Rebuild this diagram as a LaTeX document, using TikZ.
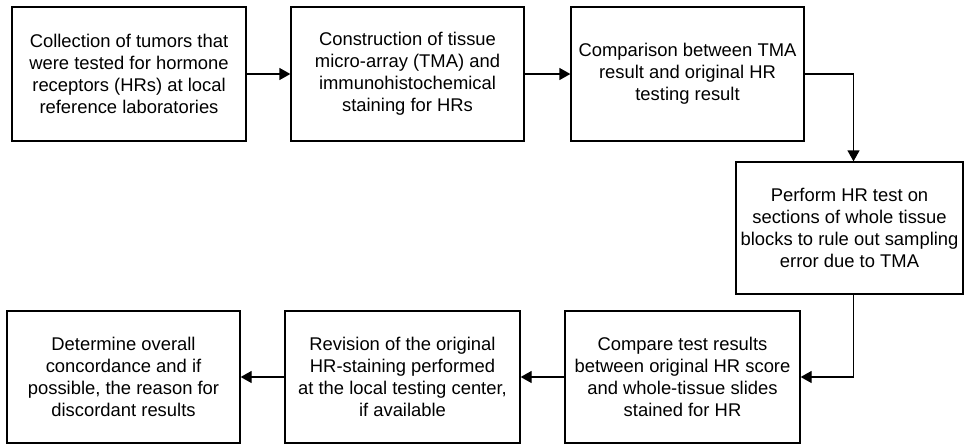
\documentclass[tikz,border=0pt]{standalone}
\usepackage{fontspec}
\setmainfont{Liberation Sans}
\usetikzlibrary{arrows.meta}
\begin{document}
\begin{tikzpicture}[x=1pt,y=-1pt,
  box/.style={draw, line width=1.3pt, align=center, inner sep=0pt,
    font=\fontsize{18.4}{22}\selectfont},
  arr/.style={line width=1.3pt, -{Triangle[length=11pt,width=12pt]}}]
\useasboundingbox (0,0) rectangle (965,445);
\node[box, minimum width=234pt, minimum height=134pt] (b1) at (129,74)
  {Collection of tumors that\\were tested for hormone\\receptors (HRs) at local\\reference laboratories};
\node[box, minimum width=233pt, minimum height=134pt] (b2) at (407.5,74)
  {Construction of tissue\\micro-array (TMA) and\\immunohistochemical\\staining for HRs};
\node[box, minimum width=233pt, minimum height=134pt] (b3) at (687.5,74)
  {Comparison between TMA\\result and original HR\\testing result};
\node[box, minimum width=227pt, minimum height=132pt] (b4) at (849.5,228)
  {Perform HR test on\\sections of whole tissue\\blocks to rule out sampling\\error due to TMA};
\node[box, minimum width=235pt, minimum height=132pt] (b5) at (682.5,377)
  {Compare test results\\between original HR score\\and whole-tissue slides\\stained for HR};
\node[box, minimum width=235pt, minimum height=132pt] (b6) at (402.5,377)
  {Revision of the original\\HR-staining performed\\at the local testing center,\\if available};
\node[box, minimum width=233pt, minimum height=132pt] (b7) at (123.5,377)
  {Determine overall\\concordance and if\\possible, the reason for\\discordant results};
\draw[arr] (b1.east) -- (b2.west);
\draw[arr] (b2.east) -- (b3.west);
\draw[arr] (b3.east) -| ([xshift=4pt]b4.north);
\draw[arr] ([xshift=4pt]b4.south) |- (b5.east);
\draw[arr] (b5.west) -- (b6.east);
\draw[arr] (b6.west) -- (b7.east);
\end{tikzpicture}
\end{document}
